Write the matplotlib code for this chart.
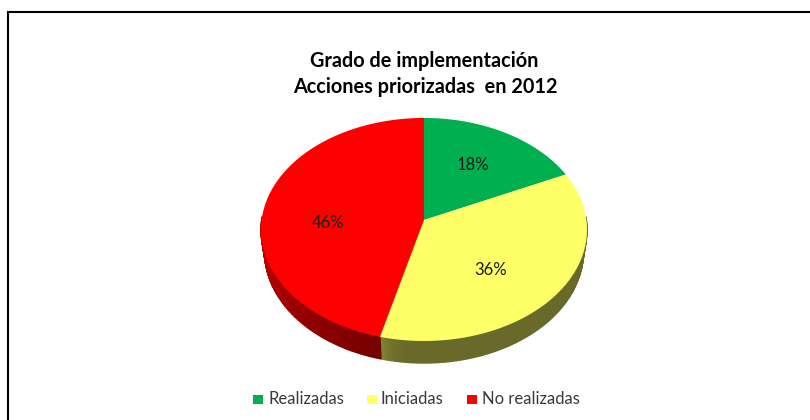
import numpy as np
import matplotlib
matplotlib.use('Agg')
import matplotlib.pyplot as plt
from matplotlib.patches import Rectangle

# ==========================================
# 1. Data
# ==========================================
labels = ['Realizadas', 'Iniciadas', 'No realizadas']
shares = [18, 36, 46]
colors = ['#00B050', '#FFFF66', '#FF0000']
title_lines = ['Grado de implementación', 'Acciones priorizadas  en 2012']

# ==========================================
# 2. Pie geometry (pixels of the 810x420 canvas)
# ==========================================
APEX_X, APEX_Y = 424, 220
RX, RY = 162.4, 110.7
PERSP = 0.085
DEPTH = 22
BASE_SHRINK = 0.978  # lower face looks a bit narrower than the top one


def project(theta):
    # theta runs clockwise from 12 o'clock, tilted circle with perspective
    u, v = np.sin(theta), np.cos(theta)
    w = 1 + PERSP * v
    return APEX_X + RX * u / w, APEX_Y - RY * v / w


def side_color(base, t):
    # t is 0 at the far end of the rim's sweep, 1 at its start
    base = np.array(matplotlib.colors.to_rgb(base))
    if base[1] > 0.5:
        shade = 0.41 + 0.14 * np.exp(-t / 0.03)
    else:
        shade = 0.78 - 0.32 * t
    return tuple(base * shade)


plt.rcParams['font.family'] = ['Lato', 'DejaVu Sans']
fig = plt.figure(figsize=(8.1, 4.2), dpi=100)
ax = fig.add_axes([0, 0, 1, 1])
ax.set_xlim(0, 810)
ax.set_ylim(420, 0)
ax.axis('off')

# frame of the pasted picture, cut by the right and bottom edges
ax.plot([8, 8, 810], [420, 12, 12], color='black', lw=1.5, solid_joinstyle='miter')

# ==========================================
# 3. Wedges
# ==========================================
edges = np.cumsum([0] + shares) / sum(shares) * 2 * np.pi

for i, color in enumerate(colors):
    # rim below the top face: only the front part of the pie shows it
    lo = max(edges[i], np.pi / 2 - 0.03)
    hi = min(edges[i + 1], 3 * np.pi / 2 + 0.03)
    if lo < hi:
        steps = np.linspace(lo, hi, 90)
        for j in range(len(steps) - 1):
            x0, y0 = project(steps[j])
            x1, y1 = project(steps[j + 1])
            bx0 = APEX_X + (x0 - APEX_X) * BASE_SHRINK
            bx1 = APEX_X + (x1 - APEX_X) * BASE_SHRINK
            t = (hi - steps[j]) / (hi - lo)
            ax.fill([x0, x1, bx1, bx0], [y0, y1, y1 + DEPTH, y0 + DEPTH],
                    color=side_color(color, t), lw=1.0)

for i, color in enumerate(colors):
    arc = np.linspace(edges[i], edges[i + 1], 200)
    xs, ys = project(arc)
    ax.fill(np.r_[APEX_X, xs], np.r_[APEX_Y, ys], color=color, lw=0)

# ==========================================
# 4. Text
# ==========================================
pct_pos = [(473, 165), (491, 270), (328, 223)]
for share, (px, py) in zip(shares, pct_pos):
    ax.text(px, py, f'{share}%', ha='center', va='center', fontsize=12, color='#1a1a1a')

ax.text(424, 61, title_lines[0], ha='center', va='center', fontsize=14.3, fontweight='bold', color='black')
ax.text(425, 87, title_lines[1], ha='center', va='center', fontsize=14.3, fontweight='bold', color='black')

swatch_x = [253, 367, 467]
text_x = [268, 381, 482]
for sx, tx, label, color in zip(swatch_x, text_x, labels, colors):
    ax.add_patch(Rectangle((sx, 395), 10, 9, color=color, lw=0))
    ax.text(tx, 399.5, label, ha='left', va='center', fontsize=12, color='#3a3a3a')

fig.savefig('out.png', dpi=100)
